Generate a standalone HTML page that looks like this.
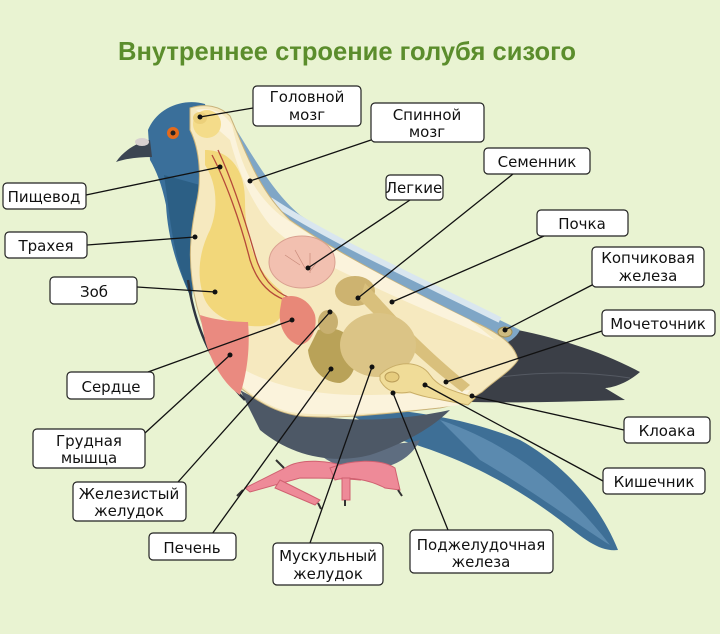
<!DOCTYPE html>
<html><head><meta charset="utf-8"><style>
html,body{margin:0;padding:0;background:#e9f3d2;}
svg{display:block}
.lb{fill:#fff;stroke:#222;stroke-width:1.2}
text{font-family:"DejaVu Sans","Liberation Sans",sans-serif;font-size:15px;fill:#111}
.ln{stroke:#111;stroke-width:1.3;fill:none}
</style></head><body>
<svg width="720" height="634" viewBox="0 0 720 634" xmlns="http://www.w3.org/2000/svg">
<rect width="720" height="634" fill="#e9f3d2"/>
<text x="347" y="60" text-anchor="middle" style="font-family:'Liberation Sans',sans-serif;font-size:26px;font-weight:bold;fill:#5b8d2c" textLength="458" lengthAdjust="spacingAndGlyphs">Внутреннее строение голубя сизого</text>

<!-- lower tail blue -->
<path d="M330,405 C420,410 470,420 520,440 C565,465 600,505 618,550 C600,552 585,540 560,520 C520,490 470,460 400,440 Z" fill="#3e6f96"/>
<path d="M440,420 C500,440 560,480 610,545 C585,530 540,495 480,460 Z" fill="#6f9cc0" opacity="0.6"/>
<!-- upper tail dark -->
<path d="M470,322 C530,330 590,345 640,372 C625,385 610,388 605,388 L625,400 C560,402 510,403 470,402 Z" fill="#3b3f47"/>
<path d="M480,380 C540,370 590,372 630,378" stroke="#555a63" stroke-width="1" fill="none"/>
<!-- thigh / lower body -->
<path d="M300,410 C340,440 380,450 420,440 C410,460 390,470 360,470 C330,468 310,450 300,430 Z" fill="#5e6d80"/>
<!-- legs -->
<g fill="#ee8a98" stroke="#d06070" stroke-width="1">
<path d="M285,468 C300,458 330,460 350,468 L360,480 C340,478 320,478 300,478 L250,492 L245,488 Z"/>
<path d="M330,468 C350,460 380,458 395,468 L400,490 L385,488 C370,480 350,476 335,480 Z"/>
<path d="M280,480 L320,500 L315,505 L275,488 Z"/>
<path d="M350,478 L350,500 L342,500 L342,478 Z"/>
</g>
<g stroke="#333" stroke-width="2"><path d="M276,460 l8,8"/><path d="M243,490 l-6,6"/><path d="M318,503 l3,6"/><path d="M398,490 l4,6"/><path d="M345,500 l0,6"/></g>
<!-- body underside gray-blue -->
<path d="M240,390 C300,425 380,425 450,410 C430,430 400,445 370,455 C330,465 290,455 260,430 Z" fill="#4d5866"/>
<!-- wing/back band -->
<path d="M225,112 C250,150 270,190 300,215 C360,255 440,290 520,330 C515,340 505,345 495,345 C440,320 360,280 300,250 C260,220 240,170 215,130 Z" fill="#7fa6c6"/>
<path d="M270,200 C330,240 420,280 500,320" stroke="#d9e6ef" stroke-width="6" fill="none"/>
<!-- head / neck blue -->
<path d="M148,130 C158,106 185,98 205,104 L215,150 C205,180 198,210 195,240 L192,300 C178,270 168,240 166,205 C162,185 156,170 150,160 Z" fill="#3a6f9a"/>
<path d="M164,175 C170,215 172,255 190,295 L198,280 C190,240 192,210 200,185 Z" fill="#2c5f85"/>
<!-- breast dark outline -->
<path d="M188,280 C195,330 215,370 245,400" stroke="#2d3440" stroke-width="2.5" fill="none"/>
<!-- beak -->
<path d="M150,140 C138,142 124,150 116,162 C128,158 140,157 152,157 Z" fill="#3b4552"/>
<ellipse cx="142" cy="142" rx="7" ry="4" fill="#d8d0d0"/>
<!-- eye -->
<circle cx="173" cy="133" r="6" fill="#e36a1c"/>
<circle cx="173" cy="133" r="2.5" fill="#222"/>

<!-- cream cutout body -->
<path d="M190,108 C205,103 220,106 230,116 C245,150 258,190 290,220 C340,255 410,290 470,320 C500,333 515,345 518,360 C510,372 495,380 482,392 C470,400 455,405 440,408 C400,412 340,420 300,416 C270,412 248,395 232,380 C210,350 196,315 192,280 C188,250 192,225 196,205 C202,180 200,150 190,130 Z" fill="#f6e9bf" stroke="#c9b27a" stroke-width="1"/>
<path d="M196,110 C215,106 225,115 232,125 C240,160 250,190 280,215 C330,250 400,285 470,320 L495,340 C450,320 400,300 360,280 C320,262 290,245 270,225 C250,200 238,170 230,140 Z" fill="#fbf3dc"/>
<path d="M215,350 C250,380 300,395 360,395 C400,395 440,392 470,390 L460,405 C400,412 330,418 290,412 C260,405 240,385 225,370 Z" fill="#fbf3dc"/>
<!-- big yellow esophagus/crop -->
<path d="M205,150 C230,150 245,170 245,200 C245,240 255,270 280,290 C290,300 285,320 270,325 C245,330 215,320 205,300 C195,275 200,250 210,230 C220,205 215,180 205,165 Z" fill="#f2d77a"/>
<!-- breast muscle -->
<path d="M200,315 C215,320 235,322 248,322 C250,345 248,370 240,395 C225,385 212,365 205,340 Z" fill="#ea8a80"/>
<!-- brain -->
<ellipse cx="207" cy="124" rx="14" ry="14" fill="#f4dc8a"/>
<ellipse cx="200" cy="118" rx="7" ry="6" fill="#ecd07a"/>
<!-- spine lines -->
<path d="M212,155 C225,180 240,220 250,260 C258,285 272,295 285,300" stroke="#b5493a" stroke-width="1.3" fill="none"/>
<path d="M218,150 C232,180 245,220 255,255 C262,280 275,292 290,298" stroke="#b5493a" stroke-width="1.3" fill="none"/>
<!-- lungs -->
<ellipse cx="302" cy="262" rx="33" ry="26" fill="#f2c0b0" stroke="#d9a090" stroke-width="1"/>
<path d="M285,255 l15,10 m-5,-15 l10,18 m5,-15 l0,20 m8,-12 l-8,10" stroke="#c88a7a" stroke-width="0.7"/>
<!-- heart -->
<path d="M282,298 C295,292 310,300 315,315 C318,330 310,345 298,345 C285,340 278,325 280,310 Z" fill="#e88878"/>
<!-- testis -->
<ellipse cx="355" cy="291" rx="20" ry="15" fill="#cdb370"/>
<!-- kidney band -->
<path d="M365,283 C390,310 420,345 470,385 L462,392 C420,360 385,325 360,300 Z" fill="#d9c07c"/>
<!-- liver -->
<path d="M318,330 C335,325 352,332 355,350 C358,365 352,380 340,383 C325,383 310,370 308,350 Z" fill="#b9a258"/>
<!-- proventriculus -->
<ellipse cx="328" cy="322" rx="10" ry="12" fill="#c8b070"/>
<!-- gizzard -->
<ellipse cx="378" cy="345" rx="38" ry="32" fill="#dbc486"/>
<!-- intestine -->
<path d="M380,375 C395,360 420,360 430,375 C440,390 460,392 475,398 L468,405 C445,400 425,398 410,392 C395,395 385,390 380,380 Z" fill="#f0dc98" stroke="#c9ae68" stroke-width="1"/>
<ellipse cx="392" cy="377" rx="7" ry="5" fill="#e6cc7e" stroke="#b99c58"/>
<!-- uropygial gland -->
<ellipse cx="505" cy="332" rx="7" ry="5" fill="#cdbb80" stroke="#a08c50"/>

<!-- leader lines -->
<g class="ln">
<path d="M253,108 L200,117"/><path d="M371,140 L250,181"/>
<path d="M86,195 L220,167"/><path d="M87,245 L195,237"/>
<path d="M137,287 L215,292"/><path d="M148,372 L292,320"/>
<path d="M145,433 L230,355"/><path d="M178,482 L330,312"/>
<path d="M212,534 L331,369"/><path d="M310,543 L372,367"/>
<path d="M448,530 L393,393"/><path d="M410,200 L308,268"/>
<path d="M513,174 L358,298"/><path d="M544,236 L392,302"/>
<path d="M594,284 L505,330"/><path d="M602,331 L446,382"/>
<path d="M624,430 L472,396"/><path d="M603,481 L425,385"/>
</g>
<g fill="#111">
<circle cx="200" cy="117" r="2.5"/><circle cx="250" cy="181" r="2.5"/>
<circle cx="220" cy="167" r="2.5"/><circle cx="195" cy="237" r="2.5"/>
<circle cx="215" cy="292" r="2.5"/><circle cx="292" cy="320" r="2.5"/>
<circle cx="230" cy="355" r="2.5"/><circle cx="330" cy="312" r="2.5"/>
<circle cx="331" cy="369" r="2.5"/><circle cx="372" cy="367" r="2.5"/>
<circle cx="393" cy="393" r="2.5"/><circle cx="308" cy="268" r="2.5"/>
<circle cx="358" cy="298" r="2.5"/><circle cx="392" cy="302" r="2.5"/>
<circle cx="505" cy="330" r="2.5"/><circle cx="446" cy="382" r="2.5"/>
<circle cx="472" cy="396" r="2.5"/><circle cx="425" cy="385" r="2.5"/>
</g>

<!-- labels -->
<g>
<rect class="lb" x="253" y="86" width="108" height="40" rx="4"/><text x="307" y="102" text-anchor="middle">Головной</text><text x="307" y="120" text-anchor="middle">мозг</text>
<rect class="lb" x="371" y="103" width="113" height="39" rx="4"/><text x="427" y="120" text-anchor="middle">Спинной</text><text x="427" y="137" text-anchor="middle">мозг</text>
<rect class="lb" x="484" y="148" width="106" height="26" rx="4"/><text x="537" y="167" text-anchor="middle">Семенник</text>
<rect class="lb" x="386" y="175" width="57" height="25" rx="4"/><text x="414" y="193" text-anchor="middle">Легкие</text>
<rect class="lb" x="537" y="210" width="91" height="26" rx="4"/><text x="582" y="229" text-anchor="middle">Почка</text>
<rect class="lb" x="592" y="247" width="112" height="40" rx="4"/><text x="648" y="263" text-anchor="middle">Копчиковая</text><text x="648" y="281" text-anchor="middle">железа</text>
<rect class="lb" x="602" y="310" width="113" height="26" rx="4"/><text x="658" y="329" text-anchor="middle">Мочеточник</text>
<rect class="lb" x="624" y="417" width="86" height="26" rx="4"/><text x="667" y="436" text-anchor="middle">Клоака</text>
<rect class="lb" x="603" y="468" width="102" height="26" rx="4"/><text x="654" y="487" text-anchor="middle">Кишечник</text>
<rect class="lb" x="3" y="183" width="83" height="26" rx="4"/><text x="44" y="202" text-anchor="middle">Пищевод</text>
<rect class="lb" x="5" y="232" width="82" height="26" rx="4"/><text x="46" y="251" text-anchor="middle">Трахея</text>
<rect class="lb" x="50" y="277" width="87" height="27" rx="4"/><text x="94" y="297" text-anchor="middle">Зоб</text>
<rect class="lb" x="67" y="372" width="87" height="27" rx="4"/><text x="111" y="392" text-anchor="middle">Сердце</text>
<rect class="lb" x="33" y="429" width="112" height="39" rx="4"/><text x="89" y="446" text-anchor="middle">Грудная</text><text x="89" y="463" text-anchor="middle">мышца</text>
<rect class="lb" x="73" y="482" width="113" height="39" rx="4"/><text x="129" y="499" text-anchor="middle">Железистый</text><text x="129" y="516" text-anchor="middle">желудок</text>
<rect class="lb" x="149" y="533" width="87" height="27" rx="4"/><text x="192" y="553" text-anchor="middle">Печень</text>
<rect class="lb" x="273" y="543" width="110" height="42" rx="4"/><text x="328" y="561" text-anchor="middle">Мускульный</text><text x="328" y="579" text-anchor="middle">желудок</text>
<rect class="lb" x="410" y="530" width="143" height="43" rx="4"/><text x="481" y="550" text-anchor="middle">Поджелудочная</text><text x="481" y="567" text-anchor="middle">железа</text>
</g>
</svg>
</body></html>
